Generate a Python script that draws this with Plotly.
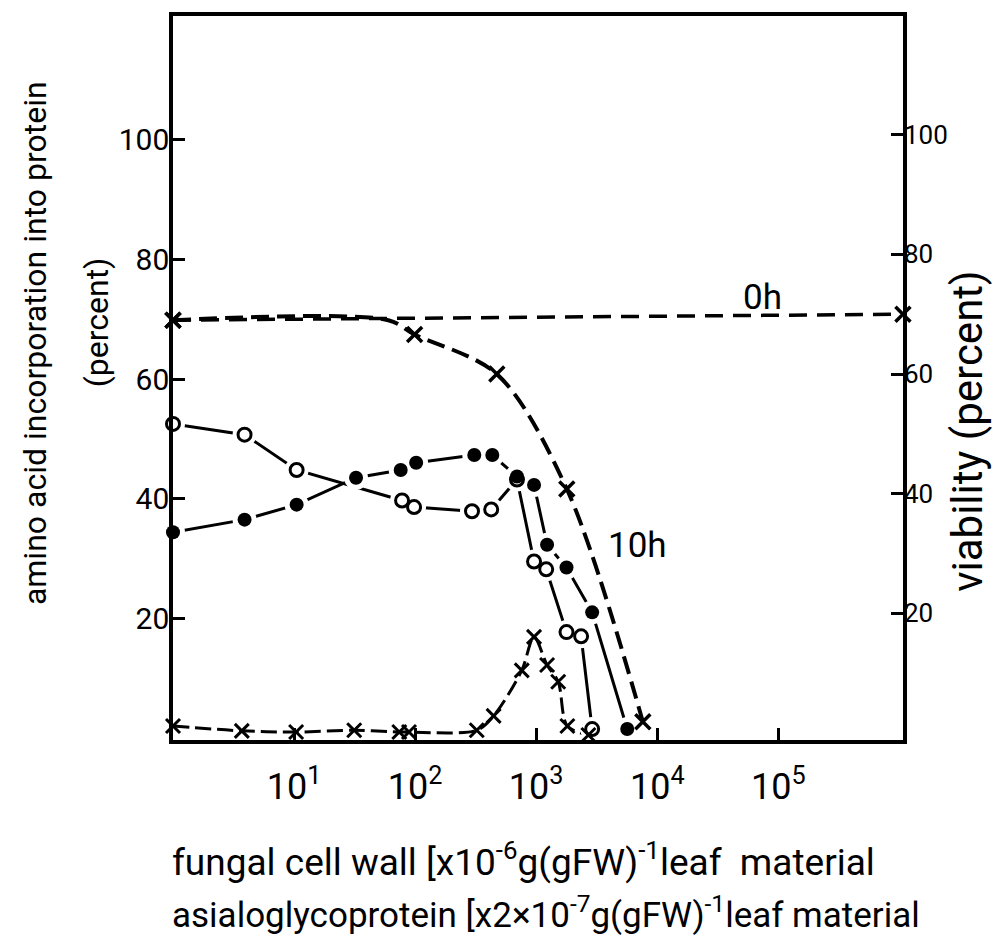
import math
import plotly.graph_objects as go

# ---------------- data ----------------
# amino acid incorporation, open circles
open_x = [1, 3.9, 10.5, 78, 98, 295, 425, 694, 960, 1210, 1780, 2350, 2900]
open_y = [52.5, 50.7, 44.8, 39.7, 38.6, 37.9, 38.2, 43.2, 29.5, 28.2, 17.7, 17.0, 1.5]

# amino acid incorporation, filled circles
filled_x = [1, 3.9, 10.5, 32.5, 76, 102, 308, 434, 694, 960, 1230, 1780, 2900, 5650]
filled_y = [34.4, 36.5, 39.0, 43.5, 44.8, 46.0, 47.3, 47.3, 43.7, 42.3, 32.3, 28.5, 21.0, 1.5]

# amino acid incorporation, crosses (low curve)
cross_x = [1, 3.7, 10.4, 31.4, 74, 89, 323, 445, 760, 960, 1230, 1520, 1810, 2700]
cross_y = [2.0, 1.2, 1.0, 1.3, 1.0, 1.0, 1.3, 3.7, 11.3, 16.9, 12.2, 9.4, 2.0, 0.5]

# viability (right axis)
h0_x = [1, 1.07e6]
h0_y = [69.0, 70.0]
h10_x = [1, 60, 99, 473, 1790, 7600]
h10_y = [69.0, 69.0, 66.6, 60.0, 40.8, 1.9]
h10_marked = [True, False, True, True, True, True]

y_ticks = [20, 40, 60, 80, 100]
x_ticks = [10, 100, 1000, 10000, 100000]
x_ticktext = ["10<sup>1</sup>", "10<sup>2</sup>", "10<sup>3</sup>", "10<sup>4</sup>", "10<sup>5</sup>"]

# ---------------- figure ----------------
FONT = "Roboto, Liberation Sans, sans-serif"
BLACK = "black"

fig = go.Figure()


def add_line(x, y, dash, width, shape="linear", yaxis="y"):
    fig.add_trace(go.Scatter(
        x=x, y=y, mode="lines", yaxis=yaxis,
        line=dict(color=BLACK, width=width, dash=dash, shape=shape, smoothing=0.9),
        hoverinfo="skip", showlegend=False, cliponaxis=False))


def add_markers(x, y, symbol, size, color, lw=0, lc=BLACK, yaxis="y"):
    fig.add_trace(go.Scatter(
        x=x, y=y, mode="markers", yaxis=yaxis,
        marker=dict(symbol=symbol, size=size, color=color, line=dict(width=lw, color=lc)),
        hoverinfo="skip", showlegend=False, cliponaxis=False))


# lines
add_line(h0_x, h0_y, "18px,10px", 3.5, yaxis="y2")
add_line(h10_x, h10_y, "18px,8px", 4, shape="spline", yaxis="y2")
add_line(open_x, open_y, "solid", 3)
add_line(filled_x, filled_y, "solid", 3)
add_line(cross_x, cross_y, "16px,6px", 3, shape="spline")

# white halos that leave gaps in the lines near the circle markers
add_markers(open_x, open_y, "circle", 24, "white")
add_markers(filled_x, filled_y, "circle", 24, "white")

# markers
add_markers(open_x, open_y, "circle-open", 13, BLACK, lw=3)
add_markers(filled_x, filled_y, "circle", 14, BLACK)
add_markers(cross_x, cross_y, "x-thin-open", 14, BLACK, lw=3)
mx = [x for x, m in zip(h10_x, h10_marked) if m]
my = [y for y, m in zip(h10_y, h10_marked) if m]
add_markers(mx, my, "x-thin-open", 15, BLACK, lw=3.5, yaxis="y2")
add_markers(h0_x, h0_y, "x-thin-open", 15, BLACK, lw=3.5, yaxis="y2")

W, H = 992, 946
L, R, T, B = 173, 89, 14, 206
PW, PH = W - L - R, H - T - B


def px(xp):
    return (xp - L) / PW


def py(yp):
    return (H - B - yp) / PH


fig.update_layout(
    width=W, height=H,
    margin=dict(l=L, r=R, t=T, b=B, pad=0),
    paper_bgcolor="white", plot_bgcolor="white",
    font=dict(family=FONT, color=BLACK, size=30),
    showlegend=False,
    xaxis=dict(
        type="log", range=[0, 6.03],
        showline=True, linewidth=3.5, linecolor=BLACK, mirror=True,
        showgrid=False, zeroline=False,
        ticks="inside", ticklen=12, tickwidth=3, tickcolor=BLACK,
        tickvals=x_ticks, ticktext=x_ticktext,
        tickfont=dict(size=36, family=FONT), ticklabelstandoff=12,
    ),
    yaxis=dict(
        range=[-0.33, 120.67],
        showline=True, linewidth=3.5, linecolor=BLACK, mirror=False,
        showgrid=False, zeroline=False,
        ticks="inside", ticklen=12, tickwidth=3, tickcolor=BLACK,
        tickvals=y_ticks, tickfont=dict(size=30, family=FONT),
        ticklabelstandoff=-6,
    ),
    yaxis2=dict(
        range=[-1.16, 119.84], overlaying="y", side="right",
        showline=True, linewidth=3.5, linecolor=BLACK,
        showgrid=False, zeroline=False,
        ticks="inside", ticklen=12, tickwidth=3, tickcolor=BLACK,
        tickvals=y_ticks, tickfont=dict(size=26, family=FONT),
        ticklabelstandoff=-8,
    ),
)

ann = []
ann.append(dict(text="0h", x=4.87, y=73.7, xref="x", yref="y", showarrow=False,
                font=dict(size=35, family=FONT)))
ann.append(dict(text="10h", x=3.84, y=32.2, xref="x", yref="y", showarrow=False,
                font=dict(size=35, family=FONT)))
ann.append(dict(text="fungal cell wall [x10<sup>-6</sup>g(gFW)<sup>-1</sup>leaf  material",
                x=px(170), y=py(860), xref="paper", yref="paper", xanchor="left", yanchor="middle",
                showarrow=False, font=dict(size=37, family=FONT)))
ann.append(dict(text="asialoglycoprotein [x2×10<sup>-7</sup>g(gFW)<sup>-1</sup>leaf material",
                x=px(170), y=py(913), xref="paper", yref="paper", xanchor="left", yanchor="middle",
                showarrow=False, font=dict(size=35, family=FONT)))
ann.append(dict(text="amino acid incorporation into protein",
                x=px(35), y=py(342), xref="paper", yref="paper", xanchor="center", yanchor="middle",
                textangle=-90, showarrow=False, font=dict(size=32, family=FONT)))
ann.append(dict(text="(percent)",
                x=px(97), y=py(322), xref="paper", yref="paper", xanchor="center", yanchor="middle",
                textangle=-90, showarrow=False, font=dict(size=32, family=FONT)))
ann.append(dict(text="viability (percent)",
                x=px(968), y=py(430), xref="paper", yref="paper", xanchor="center", yanchor="middle",
                textangle=-90, showarrow=False, font=dict(size=42, family=FONT)))
fig.update_layout(annotations=ann)

fig.write_html("out.html")
